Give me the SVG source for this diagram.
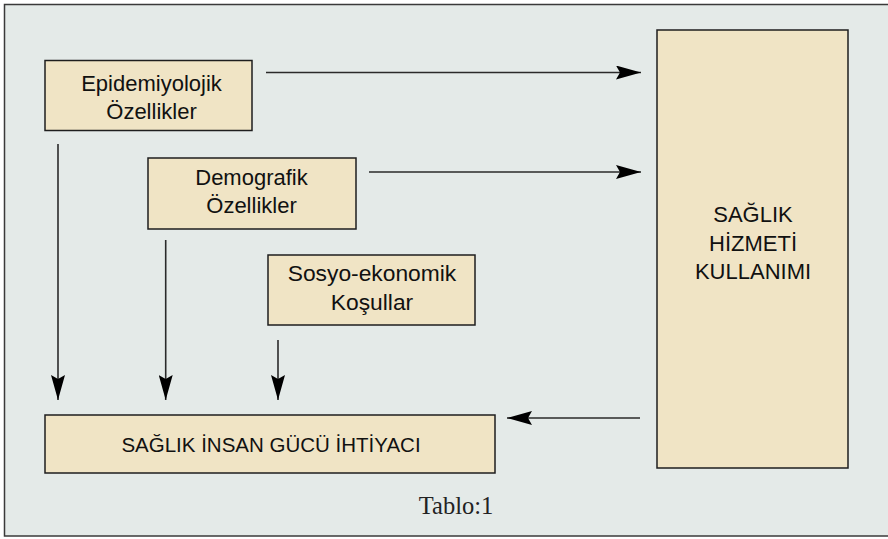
<svg xmlns="http://www.w3.org/2000/svg" width="888" height="539" viewBox="0 0 888 539">
  <style>
    .frame { fill: #e4eae8; stroke: #3a3a3a; stroke-width: 1.5; }
    .box { fill: #f0e4c5; stroke: #1e1e1e; stroke-width: 1.5; }
    .lbl { font-family: "Liberation Sans", Arial, sans-serif; font-size: 22px; fill: #111; text-anchor: middle; }
    .conn { stroke: #2a2a2a; stroke-width: 1.6; fill: none; }
    .cap { font-family: "Liberation Serif", "Times New Roman", serif; font-size: 24.5px; fill: #222; text-anchor: middle; }
  </style>
  <defs>
    <marker id="arrow" viewBox="0 0 25 14" markerUnits="userSpaceOnUse" markerWidth="25" markerHeight="14" refX="25" refY="7" orient="auto">
      <path d="M0,0 L25,7 L0,14 L4,7 Z" fill="#000"/>
    </marker>
  </defs>

  <rect class="frame" x="4.5" y="4.5" width="890" height="531.5"/>

  <g id="connectors">
    <line class="conn" x1="266" y1="72.5" x2="641" y2="72.5" marker-end="url(#arrow)"/>
    <line class="conn" x1="369" y1="172" x2="641" y2="172" marker-end="url(#arrow)"/>
    <line class="conn" x1="640" y1="418" x2="507" y2="418" marker-end="url(#arrow)"/>
    <line class="conn" x1="58" y1="144" x2="58" y2="400" marker-end="url(#arrow)"/>
    <line class="conn" x1="165.7" y1="240" x2="165.7" y2="400" marker-end="url(#arrow)"/>
    <line class="conn" x1="278" y1="340" x2="278" y2="400" marker-end="url(#arrow)"/>
  </g>

  <g id="epidemiyolojik">
    <rect class="box" x="45" y="60.5" width="207" height="70"/>
    <text class="lbl" x="151.5" y="90.5">Epidemiyolojik</text>
    <text class="lbl" x="151.5" y="119">Özellikler</text>
  </g>

  <g id="demografik">
    <rect class="box" x="148" y="158" width="208" height="71"/>
    <text class="lbl" x="251.5" y="184.5">Demografik</text>
    <text class="lbl" x="251.5" y="213">Özellikler</text>
  </g>

  <g id="sosyo">
    <rect class="box" x="268" y="255" width="207" height="70"/>
    <text class="lbl" x="372" y="281" style="font-size:22.8px">Sosyo-ekonomik</text>
    <text class="lbl" x="372" y="310" style="font-size:22.8px">Koşullar</text>
  </g>

  <g id="saglik-hizmeti">
    <rect class="box" x="657" y="30" width="191" height="438"/>
    <text class="lbl" x="753" y="222">SAĞLIK</text>
    <text class="lbl" x="753" y="250.5">HİZMETİ</text>
    <text class="lbl" x="753" y="279">KULLANIMI</text>
  </g>

  <g id="insan-gucu">
    <rect class="box" x="45" y="415" width="450" height="58"/>
    <text class="lbl" x="271" y="452" style="font-size:20.5px">SAĞLIK İNSAN GÜCÜ İHTİYACI</text>
  </g>

  <text class="cap" x="456" y="514">Tablo:1</text>
</svg>
